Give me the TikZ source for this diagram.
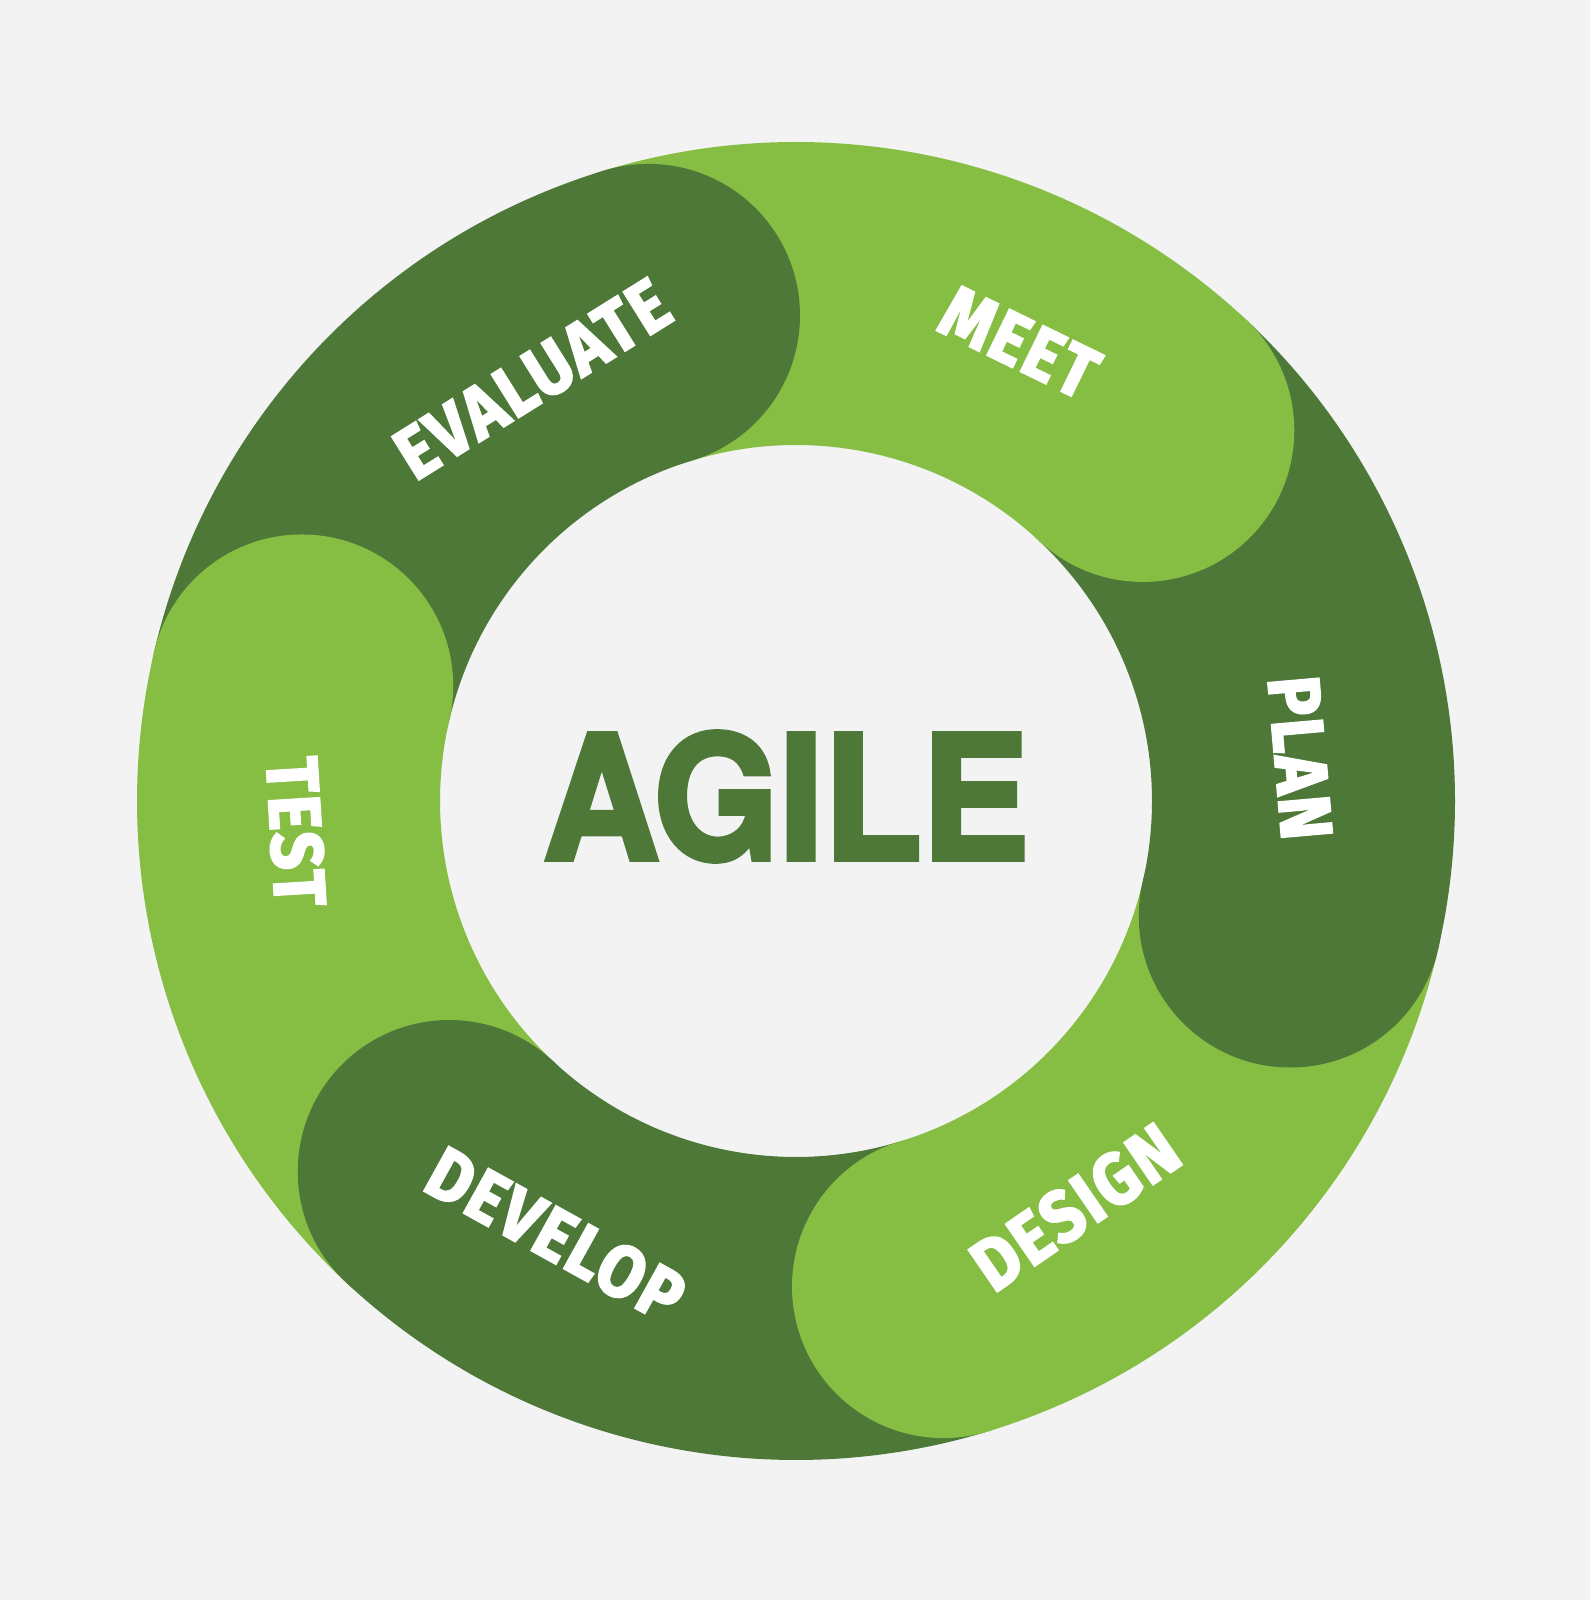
\documentclass[tikz,border=0pt]{standalone}
\usepackage{fontspec}
\usepackage{graphicx}
\newfontfamily\labelfont{Fira Sans}[BoldFeatures={FakeBold=3,LetterSpace=4}]
\newfontfamily\titlefont{TeX Gyre Heros}[BoldFeatures={FakeBold=3}]
\newcommand\segtext[1]{\scalebox{0.9}[1]{#1}}
\begin{document}
\begin{tikzpicture}[x=1pt,y=1pt]
\definecolor{bgcol}{RGB}{243,243,243}
\definecolor{dkgreen}{RGB}{77,120,56}
\definecolor{ltgreen}{RGB}{134,190,68}
\tikzset{
  lbl/.style={text=white, inner sep=0pt, font=\labelfont\bfseries\fontsize{73}{73}\selectfont},
  title/.style={text=dkgreen, inner sep=0pt, font=\titlefont\bfseries\fontsize{172}{172}\selectfont}
}
\fill[bgcol] (0,0) rectangle (1590,1600);
\useasboundingbox (0,0) rectangle (1590,1600);
\begin{scope}[shift={(796,799)}]
  % ring sectors
  \foreach \a/\b/\c in {166.9/106.9/dkgreen, 106.9/46.9/ltgreen, 46.9/-13.1/dkgreen,
                        -13.1/-73.1/ltgreen, -73.1/-133.1/dkgreen, -133.1/-193.1/ltgreen}
    \fill[\c] (\a:659) arc[start angle=\a, end angle=\b, radius=659]
      -- (\b:356) arc[start angle=\b, end angle=\a, radius=356] -- cycle;
  % round caps
  \foreach \b/\c in {106.9/dkgreen, 46.9/ltgreen, -13.1/dkgreen,
                     -73.1/ltgreen, -133.1/dkgreen, 166.9/ltgreen}
    \fill[\c] (\b:507.5) circle[radius=151.5];
  % labels
  \node[lbl, rotate=32]    (evaluate) at (122:497)   {\segtext{EVALUATE}};
  \node[lbl, rotate=-26]   (meet)     at (64:510)    {\segtext{MEET}};
  \node[lbl, rotate=-85]   (plan)     at (4.9:506)   {\segtext{PLAN}};
  \node[lbl, rotate=34.5]  (design)   at (-55.5:493) {\segtext{DESIGN}};
  \node[lbl, rotate=-29]   (develop)  at (-119:496)  {\segtext{DEVELOP}};
  \node[lbl, rotate=-86.5] (test)     at (183.5:501) {\segtext{TEST}};
\end{scope}
\node[title] (agile) at (786,803.5) {\scalebox{0.935}[1]{AGILE}};
\end{tikzpicture}
\end{document}
